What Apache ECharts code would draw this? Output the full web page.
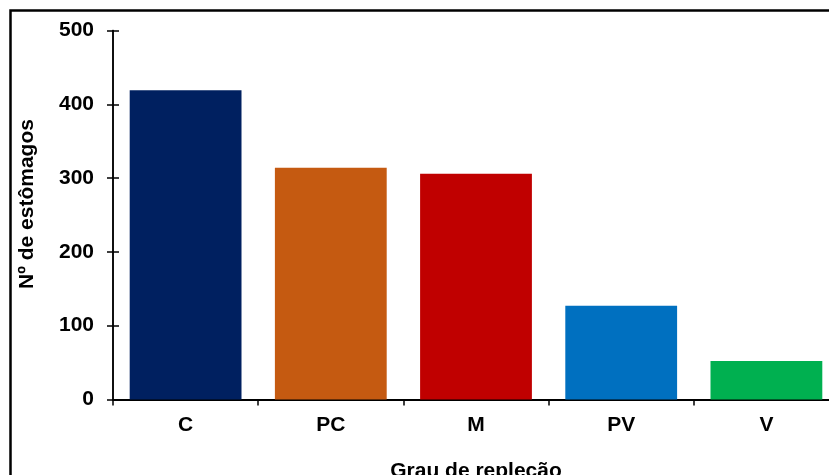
<!DOCTYPE html>
<html>
<head>
<meta charset="utf-8">
<script src="https://cdn.jsdelivr.net/npm/echarts@6/dist/echarts.min.js"></script>
<style>
  html, body { margin: 0; padding: 0; background: #fff; }
  #chart { width: 829px; height: 475px; }
</style>
</head>
<body>
<div id="chart"></div>
<script>
// Grau de repleção dos estômagos
const categories = ['C', 'PC', 'M', 'PV', 'V'];
const counts = [419, 314, 306, 127, 52];
const barColors = ['#002060', '#C55A11', '#C00000', '#0070C0', '#00B050'];
const yTicks = [0, 100, 200, 300, 400, 500];

const FONT = '"Liberation Sans", Arial, sans-serif';
const FS = 21;

const chart = echarts.init(document.getElementById('chart'), null, { renderer: 'canvas' });

const yBase = {
  type: 'value',
  min: yTicks[0],
  max: yTicks[yTicks.length - 1],
  interval: yTicks[1] - yTicks[0],
  splitLine: { show: false },
  axisLine: { show: true, lineStyle: { color: '#000', width: 1.5 } }
};

chart.setOption({
  animation: false,
  backgroundColor: '#fff',
  graphic: [{
    type: 'rect',
    shape: { x: 10.5, y: 10.5, width: 840, height: 480 },
    style: { fill: 'none', stroke: '#000', lineWidth: 2.5 },
    silent: true
  }],
  grid: { left: 113, top: 30.5, width: 726, height: 369, containLabel: false, outerBoundsMode: 'none' },
  xAxis: {
    type: 'category',
    data: categories,
    axisLine: { show: true, lineStyle: { color: '#000', width: 2 } },
    axisTick: { show: true, length: 6, lineStyle: { color: '#000', width: 1.5 } },
    axisLabel: { color: '#000', fontFamily: FONT, fontWeight: 'bold', fontSize: FS, margin: 15 },
    name: 'Grau de repleção',
    nameLocation: 'middle',
    nameGap: 61,
    nameTextStyle: { color: '#000', fontFamily: FONT, fontWeight: 'bold', fontSize: FS }
  },
  yAxis: [
    Object.assign({}, yBase, {
      axisTick: { show: true, inside: false, length: 6, lineStyle: { color: '#000', width: 1.5 } },
      axisLabel: { color: '#000', fontFamily: FONT, fontWeight: 'bold', fontSize: FS, margin: 19 },
      name: 'Nº de estômagos',
      nameLocation: 'middle',
      nameGap: 75,
      nameRotate: 90,
      nameTextStyle: { color: '#000', fontFamily: FONT, fontWeight: 'bold', fontSize: FS, padding: [0, 0, 0, 22] }
    }),
    Object.assign({}, yBase, {
      position: 'left',
      axisTick: { show: true, inside: true, length: 6, lineStyle: { color: '#000', width: 1.5 } },
      axisLabel: { show: false }
    })
  ],
  series: [{
    type: 'bar',
    yAxisIndex: 0,
    barWidth: '77%',
    data: counts.map((v, i) => ({ value: v, itemStyle: { color: barColors[i] } }))
  }]
});
</script>
</body>
</html>
